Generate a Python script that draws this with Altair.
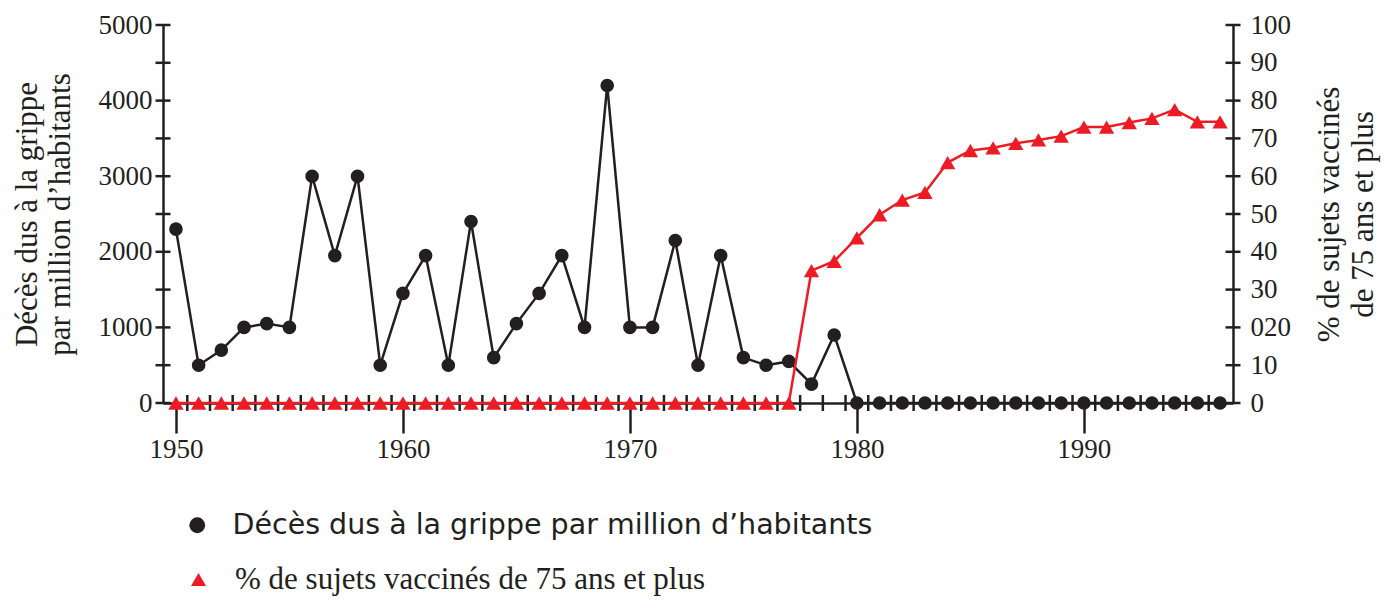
import altair as alt
import pandas as pd

# ---------------- data ----------------
years = list(range(1950, 1997))
deaths = [2300, 500, 700, 1000, 1050, 1000, 3000, 1950, 3000, 500,
          1450, 1950, 500, 2400, 600, 1050, 1450, 1950, 1000, 4200,
          1000, 1000, 2150, 500, 1950, 600, 500, 550, 250, 900,
          0, 0, 0, 0, 0, 0, 0, 0, 0, 0, 0, 0, 0, 0, 0, 0, 0]
vacc = [0] * 28 + [35, 37.5, 43.7, 49.8, 53.7, 55.7, 63.6, 66.8, 67.5, 68.7,
                   69.6, 70.6, 73, 73, 74.2, 75.3, 77.6, 74.4, 74.4]
major_years = [1950, 1960, 1970, 1980, 1990]
minor_years = [y + 0.5 for y in range(1950, 1996)]
left_ticks = list(range(0, 5001, 500))
right_ticks = list(range(0, 101, 10))

LEG1 = "Décès dus à la grippe par million d’habitants"
LEG2 = "%  de sujets vaccinés de 75 ans et plus"
LEFT_TITLE = ["Décès dus à la grippe", "par million d’habitants"]
RIGHT_TITLE = ["%  de sujets vaccinés", "de 75 ans et plus"]

INK = "#231f20"
RED = "#ed1c24"
SERIF = "Liberation Serif"
SANS = "DejaVu Sans"
XMIN, XMAX = 1949.43, 1996.57

df = pd.DataFrame({"year": years, "deaths": deaths, "vacc": vacc})
df["s1"] = LEG1
df["s2"] = LEG2
minor_df = pd.DataFrame({"year": minor_years})
lt_df = pd.DataFrame({"deaths": left_ticks})
rt_df = pd.DataFrame({"vacc": right_ticks})

x = alt.X("year:Q",
          scale=alt.Scale(domain=[XMIN, XMAX], nice=False, zero=False),
          axis=alt.Axis(values=major_years, format="d", tickSize=30, tickWidth=2.5,
                        tickColor=INK, domainColor=INK, domainWidth=2.5,
                        labelFont=SERIF, labelFontSize=27, labelColor=INK,
                        labelPadding=3, grid=False, title=None))

yL = alt.Y("deaths:Q",
           scale=alt.Scale(domain=[0, 5000], nice=False),
           axis=alt.Axis(values=left_ticks, format="d", ticks=False, labelPadding=11,
                         labelFont=SERIF, labelFontSize=27, labelColor=INK,
                         domainColor=INK, domainWidth=2.5, grid=False,
                         title=LEFT_TITLE, titleFont=SERIF, titleFontSize=31,
                         titleFontWeight="normal", titleColor=INK,
                         titlePadding=22, titleLineHeight=33))

yR = alt.Y("vacc:Q",
           scale=alt.Scale(domain=[0, 100], nice=False),
           axis=alt.Axis(orient="right", values=right_ticks, ticks=False,
                         labelPadding=17,
                         labelExpr="datum.value == 20 ? '020' : datum.label",
                         labelFont=SERIF, labelFontSize=27, labelColor=INK,
                         domainColor=INK, domainWidth=2.5, grid=False,
                         title=RIGHT_TITLE, titleFont=SERIF, titleFontSize=31,
                         titleFontWeight="normal", titleColor=INK,
                         titleAngle=270, titleBaseline="top",
                         titlePadding=-10, titleLineHeight=34))

minor = alt.Chart(minor_df).mark_tick(orient="vertical", size=16, thickness=2.5,
                                      color=INK, opacity=1).encode(x=x, y=alt.datum(0))
lticks = alt.Chart(lt_df).mark_tick(orient="horizontal", size=15, thickness=2.5,
                                    color=INK, opacity=1).encode(x=alt.datum(XMIN), y=yL)
dline = alt.Chart(df).mark_line(color=INK, strokeWidth=2.5).encode(x=x, y=yL)
dpts = alt.Chart(df).mark_point(filled=True, size=185, color=INK, opacity=1,
                                strokeWidth=0).encode(
    x=x, y=yL,
    shape=alt.Shape("s1:N", scale=alt.Scale(domain=[LEG1], range=["circle"]),
                    legend=alt.Legend(title=None, orient="none", legendX=20, legendY=486,
                                      labelFont=SANS, labelFontSize=28.5, labelColor=INK,
                                      symbolSize=250, symbolFillColor=INK,
                                      symbolStrokeWidth=0, labelOffset=21,
                                      padding=0, labelLimit=0)))

rticks = alt.Chart(rt_df).mark_tick(orient="horizontal", size=15, thickness=2.5,
                                    color=INK, opacity=1).encode(x=alt.datum(XMAX), y=yR)
vline = alt.Chart(df).mark_line(color=RED, strokeWidth=2.5).encode(x=x, y=yR)
vpts = alt.Chart(df).mark_point(filled=True, size=235, color=RED, opacity=1,
                                strokeWidth=0).encode(
    x=x, y=yR,
    shape=alt.Shape("s2:N", scale=alt.Scale(domain=[LEG2], range=["triangle-up"]),
                    legend=alt.Legend(title=None, orient="none", legendX=20, legendY=539,
                                      labelFont=SERIF, labelFontSize=31, labelColor=INK,
                                      symbolSize=225, symbolFillColor=RED,
                                      symbolStrokeWidth=0, labelOffset=21,
                                      padding=0, labelLimit=0)))

deaths_group = alt.layer(minor, lticks, dline, dpts)
vacc_group = alt.layer(rticks, vline, vpts)

chart = alt.layer(deaths_group, vacc_group).resolve_scale(
    y="independent", shape="independent"
).resolve_legend(shape="independent").properties(
    width=1070, height=378, background="white",
    autosize=alt.AutoSizeParams(type="none"),
    padding={"left": 155, "top": 17, "right": 148, "bottom": 195},
).configure_view(stroke=None)

chart.save("out.html", embed_options={"renderer": "svg", "actions": False})
